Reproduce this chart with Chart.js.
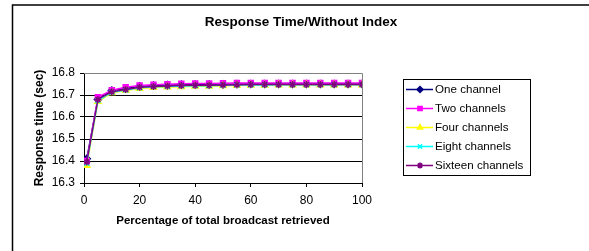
<!DOCTYPE html>
<html>
<head>
<meta charset="utf-8">
<script src="https://cdn.jsdelivr.net/npm/chart.js@4/dist/chart.umd.min.js"></script>
<style>
  html, body { margin: 0; padding: 0; background: #fff; }
  #wrap { width: 589px; height: 251px; }
</style>
</head>
<body>
<div id="wrap"><canvas id="chart"></canvas></div>
<script>
const percent = [1, 5, 10, 15, 20, 25, 30, 35, 40, 45, 50, 55, 60, 65, 70, 75, 80, 85, 90, 95, 100];

const oneChannel = [16.41, 16.68, 16.72, 16.73, 16.74, 16.743, 16.745, 16.747, 16.748, 16.748, 16.749, 16.75, 16.75, 16.75, 16.75, 16.75, 16.75, 16.75, 16.75, 16.75, 16.75];
const twoChannels = [16.40, 16.69, 16.722, 16.735, 16.743, 16.747, 16.749, 16.751, 16.752, 16.752, 16.753, 16.755, 16.755, 16.755, 16.755, 16.755, 16.755, 16.755, 16.755, 16.755, 16.755];
const fourChannels = [16.38, 16.67, 16.71, 16.72, 16.73, 16.734, 16.736, 16.738, 16.74, 16.74, 16.742, 16.743, 16.744, 16.744, 16.745, 16.745, 16.745, 16.745, 16.745, 16.745, 16.745];
const eightChannels = [16.39, 16.675, 16.713, 16.723, 16.733, 16.737, 16.739, 16.741, 16.742, 16.742, 16.744, 16.745, 16.746, 16.746, 16.747, 16.747, 16.747, 16.747, 16.747, 16.747, 16.747];
const sixteenChannels = [16.395, 16.68, 16.715, 16.725, 16.735, 16.739, 16.741, 16.743, 16.744, 16.744, 16.746, 16.747, 16.748, 16.748, 16.748, 16.748, 16.748, 16.748, 16.748, 16.748, 16.748];

const seriesLabels = ["One channel", "Two channels", "Four channels", "Eight channels", "Sixteen channels"];
const seriesColors = ["#000080", "#FF00FF", "#FFFF00", "#00FFFF", "#800080"];
const seriesMarkers = ["rectRot", "rect", "triangle", "crossRot", "star"];
const seriesValues = [oneChannel, twoChannels, fourChannels, eightChannels, sixteenChannels];

const chartTitle = "Response Time/Without Index";
const font = "'Liberation Sans', Arial, sans-serif";

// frame, title, plot border and the boxed legend on the right
const frameAndLegend = {
  id: "frameAndLegend",
  afterDraw(chart) {
    const ctx = chart.ctx;
    ctx.save();
    ctx.strokeStyle = "#000";
    ctx.lineWidth = 1.5;
    ctx.strokeRect(12.5, 5, 600, 260);

    ctx.fillStyle = "#000";
    ctx.font = "bold 13.5px " + font;
    ctx.textAlign = "center";
    ctx.textBaseline = "middle";
    ctx.fillText(chartTitle, 301, 22);

    const area = chart.chartArea;
    ctx.lineWidth = 1;
    ctx.strokeStyle = "#808080";
    ctx.beginPath();
    ctx.moveTo(area.left, area.top + 0.5);
    ctx.lineTo(area.right + 0.5, area.top + 0.5);
    ctx.lineTo(area.right + 0.5, area.bottom);
    ctx.stroke();

    const lx = 403, ly = 79, lw = 127, lh = 96;
    ctx.strokeStyle = "#000";
    ctx.strokeRect(lx + 0.5, ly + 0.5, lw, lh);
    ctx.font = "11.6px " + font;
    ctx.textAlign = "left";
    chart.data.datasets.forEach((ds, i) => {
      const y = ly + 10.5 + i * 19;
      ctx.strokeStyle = ds.borderColor;
      ctx.lineWidth = 1.5;
      ctx.beginPath();
      ctx.moveTo(lx + 3, y);
      ctx.lineTo(lx + 30, y);
      ctx.stroke();
      ctx.fillStyle = ds.backgroundColor;
      Chart.helpers.drawPoint(ctx, {
        pointStyle: ds.pointStyle,
        radius: 3,
        rotation: 0,
        borderWidth: 1
      }, lx + 17, y);
      ctx.fillStyle = "#000";
      ctx.fillText(ds.label, lx + 32, y + 0.5);
    });
    ctx.restore();
  }
};

const datasets = seriesLabels.map((label, i) => ({
  label: label,
  data: percent.map((p, j) => ({ x: p, y: seriesValues[i][j] })),
  borderColor: seriesColors[i],
  backgroundColor: seriesColors[i],
  pointBorderColor: seriesColors[i],
  pointBackgroundColor: seriesColors[i],
  pointStyle: seriesMarkers[i],
  pointRadius: 3.5,
  borderWidth: 1.5,
  tension: 0,
  order: seriesLabels.length - i
}));

new Chart(document.getElementById("chart"), {
  type: "line",
  data: { datasets: datasets },
  options: {
    responsive: true,
    maintainAspectRatio: false,
    animation: false,
    events: [],
    layout: { padding: { left: 0, right: 227, top: 73, bottom: 0 } },
    plugins: {
      legend: { display: false },
      tooltip: { enabled: false },
      title: { display: false }
    },
    scales: {
      x: {
        type: "linear",
        min: 0,
        max: 100,
        afterFit: s => { s.height = 68; },
        ticks: { stepSize: 20, color: "#000", font: { family: font, size: 12 }, padding: 6, maxRotation: 0 },
        grid: { drawOnChartArea: false, drawTicks: true, tickLength: 4, color: "#000" },
        border: { color: "#000" },
        title: {
          display: true,
          text: "Percentage of total broadcast retrieved",
          color: "#000",
          font: { family: font, size: 11.5, weight: "bold" },
          padding: { top: 0, bottom: 23 }
        }
      },
      y: {
        min: 16.3,
        max: 16.8,
        afterFit: s => { s.width = 84; },
        ticks: {
          stepSize: 0.1,
          color: "#000",
          font: { family: font, size: 12 },
          padding: 5,
          callback: v => v.toFixed(1)
        },
        grid: { color: "#000", tickLength: 4 },
        border: { color: "#000" },
        title: {
          display: true,
          text: "Response time (sec)",
          color: "#000",
          font: { family: font, size: 12, weight: "bold" },
          padding: { top: 32, bottom: 0 }
        }
      }
    }
  },
  plugins: [frameAndLegend]
});
</script>
</body>
</html>
